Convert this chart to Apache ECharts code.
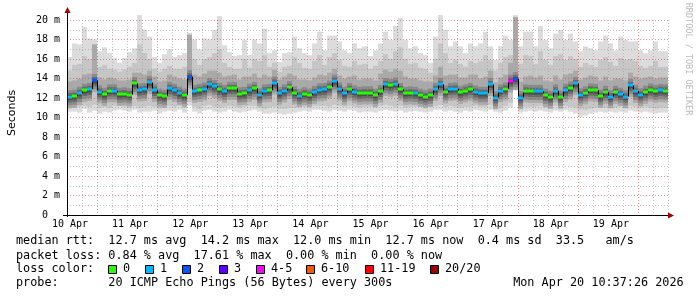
<!DOCTYPE html>
<html><head><meta charset="utf-8">
<script src="https://cdn.jsdelivr.net/npm/echarts@6/dist/echarts.min.js"></script>
<style>html,body{margin:0;padding:0;background:#fff}#c{width:697px;height:297px}</style>
</head><body><div id="c"></div><script>
// ---------- data ----------
const dayLabels = ['10 Apr','11 Apr','12 Apr','13 Apr','14 Apr','15 Apr','16 Apr','17 Apr','18 Apr','19 Apr'];
const stepHours = 2;           // one consolidated sample every 2 h, 120 samples = 10 days
const median = [
 12.15,12.2,12.5,12.8,12.9,13.8,12.65,12.4,12.75,12.75,
 12.4,12.45,12.35,13.5,12.85,12.9,13.6,12.8,12.3,12.2,
 13.0,12.8,12.5,12.3,14.2,12.7,12.8,12.95,13.4,13.2,
 12.9,12.7,13.0,13.0,12.45,12.5,12.8,13.0,12.35,12.75,
 12.8,13.55,12.5,12.75,13.1,12.55,12.25,12.45,12.3,12.6,
 12.85,12.9,13.15,13.75,12.95,12.5,12.9,12.65,12.5,12.55,
 12.55,12.3,12.7,13.4,13.3,13.45,12.9,12.5,12.55,12.5,
 12.3,12.15,12.3,12.9,13.4,12.65,12.9,12.95,12.6,12.75,
 12.9,12.65,12.5,12.5,13.4,12.05,12.75,12.95,13.75,14.0,
 12.05,12.75,12.7,12.7,12.7,12.3,12.1,12.75,12.1,12.8,
 13.05,13.5,12.35,12.55,12.85,12.8,12.2,12.6,12.15,12.6,
 12.4,12.15,13.3,12.7,12.35,12.6,12.85,12.7,12.8,12.75];
const lossClass = [
 1,0,1,0,1,2,1,0,0,1, 0,0,0,0,1,1,1,1,0,0, 1,1,1,0,2,1,0,1,1,1,
 0,1,0,0,0,0,1,0,1,1, 0,1,1,1,0,0,1,0,0,1, 1,1,0,1,1,1,0,1,0,0,
 0,0,0,1,0,1,0,0,0,1, 0,0,0,1,1,0,1,1,0,0, 0,1,1,1,1,1,1,0,4,2,
 1,0,0,1,1,0,0,1,0,1, 0,1,1,0,0,0,0,0,1,0, 1,1,1,1,1,0,0,0,1,0];
const maxRtt = [
 16.2,17.6,17.5,19.3,18.1,18.0,16.8,17.2,16.6,16.1,
 15.6,16.1,16.7,17.1,20.5,19.0,18.3,16.2,15.6,16.5,
 17.0,16.2,16.4,16.6,18.7,18.0,17.0,18.1,18.0,19.0,
 20.4,17.4,16.7,16.3,16.4,17.95,16.4,18.0,17.6,19.1,
 16.6,16.9,15.7,16.6,16.7,18.3,17.1,16.6,16.4,17.6,
 18.8,16.9,18.4,18.4,17.8,16.9,16.6,17.6,17.1,17.3,
 16.3,16.9,17.6,18.8,17.95,19.4,20.2,17.95,17.1,17.3,
 16.6,16.4,15.6,18.3,20.5,19.0,17.3,17.8,17.3,16.6,
 17.6,17.3,17.6,18.8,17.3,15.9,17.3,18.4,17.95,20.5,
 17.3,18.8,18.8,17.3,19.4,17.95,17.1,18.6,18.97,17.95,
 18.6,17.8,16.8,17.3,17.1,16.9,17.8,18.4,17.6,16.9,
 18.3,17.95,17.8,17.8,16.9,16.6,16.9,17.8,16.8,16.8];
const upperBand = [
 14.8,15.4,15.5,16.3,16.0,16.5,15.2,15.4,15.0,14.9,
 14.7,14.9,15.2,15.6,17.5,16.6,16.0,15.0,14.7,15.0,
 15.3,15.0,15.0,15.2,17.5,16.0,15.4,16.0,16.2,16.6,
 17.0,15.6,15.2,15.0,15.0,16.0,15.1,16.0,15.8,16.4,
 15.2,15.6,14.7,15.2,15.3,16.2,15.6,15.1,15.0,15.8,
 16.4,15.4,16.2,16.6,15.9,15.3,15.2,15.8,15.4,15.5,
 15.0,15.3,15.8,16.5,16.0,16.8,17.2,16.0,15.5,15.6,
 15.1,15.0,14.6,16.0,17.6,16.6,15.6,15.9,15.5,15.2,
 15.8,15.6,15.8,16.4,15.9,14.8,15.6,16.2,16.4,19.0,
 15.5,16.4,16.3,15.5,16.8,15.9,15.4,16.3,16.5,15.9,
 16.3,16.0,15.2,15.6,15.4,15.2,15.9,16.2,15.7,15.3,
 16.1,15.9,16.0,15.8,15.3,15.1,15.3,15.8,15.2,15.2];
const innerUpper = [
 13.7,13.8,14.0,14.4,14.5,17.5,14.1,13.9,14.1,14.0,
 13.8,13.8,13.9,14.6,14.6,14.4,14.8,14.2,13.7,13.8,
 14.4,14.2,14.0,13.9,18.5,14.4,14.2,14.5,14.8,14.8,
 14.6,14.2,14.3,14.4,13.9,14.2,14.2,14.5,14.1,14.4,
 14.2,14.9,13.9,14.2,14.5,14.3,13.9,13.9,13.8,14.1,
 14.4,14.3,14.6,15.0,14.3,14.0,14.2,14.3,13.9,14.0,
 14.0,13.8,14.5,14.9,14.7,15.0,14.8,14.2,14.0,14.0,
 13.8,13.7,13.7,14.3,15.2,14.3,14.4,14.4,14.1,14.1,
 14.4,14.4,14.0,14.2,14.8,13.6,14.1,14.4,15.6,20.3,
 13.7,14.2,14.3,14.1,14.3,13.8,13.7,14.3,13.9,14.4,
 14.5,14.8,13.9,14.1,14.3,14.2,13.8,14.2,13.8,14.0,
 14.0,13.8,14.6,14.2,14.0,14.1,14.2,14.0,14.1,14.1];
const minRtt = [
 10.6,10.6,10.5,10.9,10.5,10.7,10.4,10.6,10.5,10.7,
 10.8,10.7,10.6,10.8,10.5,10.6,10.6,10.7,10.4,10.6,
 10.7,10.6,10.8,10.5,11.2,10.6,10.4,10.7,10.8,10.6,
 10.5,10.6,10.8,10.6,10.5,10.6,10.7,10.8,10.6,10.4,
 10.4,10.5,10.4,10.3,10.4,10.5,10.6,10.7,10.6,10.8,
 10.8,10.7,10.6,10.8,10.7,10.6,10.8,10.7,10.5,10.6,
 10.6,10.5,10.7,10.8,10.7,10.6,10.7,10.5,10.6,10.7,
 10.6,10.5,10.6,10.8,10.8,10.6,10.7,10.6,10.5,10.7,
 10.6,10.8,10.7,10.6,10.8,10.6,10.5,10.7,11.0,12.9,
 10.5,10.6,10.7,10.6,10.7,10.6,10.5,10.7,10.6,10.8,
 10.6,10.4,10.1,10.2,10.4,10.5,10.6,10.5,10.6,10.5,
 10.6,10.5,10.7,10.6,10.5,10.6,10.5,10.4,10.5,10.5];
const lowerBand = [
 11.1,11.0,11.1,11.2,11.1,11.3,11.0,11.1,11.0,11.2,
 11.2,11.1,11.0,11.2,11.0,11.1,11.2,11.1,10.9,11.0,
 11.2,11.1,11.2,11.0,11.6,11.1,10.9,11.2,11.3,11.1,
 11.0,11.1,11.2,11.1,11.0,11.1,11.2,11.2,11.0,10.9,
 11.0,11.1,10.9,10.9,11.0,11.0,11.1,11.1,11.0,11.2,
 11.2,11.2,11.1,11.3,11.2,11.1,11.2,11.1,11.0,11.1,
 11.1,11.0,11.2,11.3,11.2,11.1,11.2,11.0,11.1,11.1,
 11.1,11.0,11.1,11.2,11.3,11.1,11.2,11.1,11.0,11.1,
 11.1,11.2,11.1,11.1,11.3,11.0,11.0,11.2,11.5,13.3,
 11.0,11.1,11.1,11.1,11.2,11.0,11.0,11.2,11.0,11.2,
 11.1,11.0,10.8,10.8,10.9,11.0,11.0,11.0,11.0,11.0,
 11.1,11.0,11.2,11.1,11.0,11.1,11.0,10.9,11.0,11.0];

const lossColors = ['#26ff00','#00b8ff','#0059ff','#5e00ff','#ff00ff','#ff5500','#ff0000','#a00000'];
const lossLabels = ['0','1','2','3','4-5','6-10','11-19','20/20'];
const legendLines = [
  'median rtt:  12.7 ms avg  14.2 ms max  12.0 ms min  12.7 ms now  0.4 ms sd  33.5   am/s',
  'packet loss: 0.84 % avg  17.61 % max  0.00 % min  0.00 % now',
  'loss color:',
  'probe:       20 ICMP Echo Pings (56 Bytes) every 300s                 Mon Apr 20 10:37:26 2026'
];

// ---------- build ----------
const rows = median.map((m, i) => [i*stepHours, (i+1)*stepHours, minRtt[i], maxRtt[i], lowerBand[i], upperBand[i], innerUpper[i], m, i ? median[i-1] : m, lossClass[i]]);

const RED = 'rgba(215,70,70,0.6)', GRAY = 'rgba(150,150,150,0.55)', NONE = 'rgba(0,0,0,0)';
const MONO = '"DejaVu Sans Mono", monospace';

function smoke(params, api) {
  const x0 = Math.round(api.coord([api.value(0), 0])[0]);
  const x1 = Math.round(api.coord([api.value(1), 0])[0]);
  const m = api.value(7);
  const bands = [
    [api.value(2), api.value(3), '#dcdcdc'],
    [api.value(4), api.value(5), '#c6c6c6'],
    [m - 1.2, api.value(6), '#a9a9a9'],
    [m - 0.9, m + 0.65, '#8a8a8a'],
    [m - 0.6, m + 0.35, '#6a6a6a'],
    [m - 0.35, m + 0.15, '#4c4c4c']
  ];
  return {type:'group', children: bands.map(([a,b,c]) => {
    const ya = api.coord([0,a])[1], yb = api.coord([0,b])[1];
    return {type:'rect', shape:{x:x0, y:yb, width:x1-x0, height:ya-yb}, style:{fill:c}};
  })};
}
function medianMark(params, api) {
  const x0 = Math.round(api.coord([api.value(0), 0])[0]);
  const x1 = Math.round(api.coord([api.value(1), 0])[0]);
  const y = api.coord([0, api.value(7)])[1];
  const yp = api.coord([0, api.value(8)])[1];
  return {type:'group', children:[
    {type:'line', shape:{x1:x0+0.5, y1:yp, x2:x0+0.5, y2:y}, style:{stroke:'#000', lineWidth:1}},
    {type:'rect', shape:{x:x0, y:Math.round(y)-1.5, width:x1-x0, height:3}, style:{fill:lossColors[api.value(9)]}}
  ]};
}

const graphics = [
  {type:'line', shape:{x1:67.5,y1:11,x2:67.5,y2:217}, style:{stroke:'#000', lineWidth:1}, z:20},
  {type:'polygon', shape:{points:[[64.5,13],[70.5,13],[67.5,7]]}, style:{fill:'#a00000'}, z:20},
  {type:'line', shape:{x1:63,y1:215.5,x2:669,y2:215.5}, style:{stroke:'#000', lineWidth:1}, z:20},
  {type:'polygon', shape:{points:[[668,212.5],[668,218.5],[674,215.5]]}, style:{fill:'#a00000'}, z:20},
  {type:'text', x:12, y:113, rotation:Math.PI/2, style:{text:'Seconds', font:'11px "DejaVu Sans"', fill:'#000', align:'center', verticalAlign:'middle'}},
  {type:'text', x:688, y:59, rotation:-Math.PI/2, style:{text:'RRDTOOL / TOBI OETIKER', font:'8.5px ' + MONO, fill:'#bcbcbc', align:'center', verticalAlign:'middle'}}
];
const lf = '11.8px ' + MONO;
const lineY = [241, 255.7, 269.3, 283.3];
legendLines.forEach((t, k) => graphics.push({type:'text', x:16, y:lineY[k], style:{text:t, font:lf, fill:'#000', align:'left', verticalAlign:'middle'}}));
const boxX = [108.5,145.5,182.5,219.5,256.5,306.5,365.5,430.5];
lossLabels.forEach((lab, k) => {
  graphics.push({type:'rect', shape:{x:boxX[k], y:265.5, width:8, height:8}, style:{fill:lossColors[k], stroke:'#000', lineWidth:1}});
  graphics.push({type:'text', x:boxX[k]+14.5, y:269.3, style:{text:lab, font:lf, fill:'#000', align:'left', verticalAlign:'middle'}});
});

const chart = echarts.init(document.getElementById('c'), null, {renderer:'canvas'});
chart.setOption({
  animation:false,
  backgroundColor:'#fff',
  grid:{left:67, right:29, top:20, bottom:82},
  xAxis:[
    {type:'value', min:0, max:240, interval:6, z:3,
     axisLine:{show:false}, axisTick:{show:false},
     axisLabel:{formatter: v => (v % 24 === 0 && v < 240) ? dayLabels[v/24] : '', fontFamily:MONO, fontSize:10, color:'#000', margin:4, padding:[0,0,0,6]},
     splitLine:{show:true, lineStyle:{color:[GRAY,GRAY,NONE,GRAY], type:[1,2], width:1}}},
    {type:'value', min:0, max:240, interval:12, z:3, position:'bottom',
     axisLine:{show:false}, axisTick:{show:false}, axisLabel:{show:false},
     splitLine:{show:true, lineStyle:{color:[NONE,RED], type:[1,2], width:1}}}
  ],
  yAxis:{type:'value', min:0, max:20, interval:1, z:3,
     axisLine:{show:false}, axisTick:{show:false},
     axisLabel:{formatter: v => (v % 2) ? '' : (v === 0 ? '0  ' : v + ' m'), fontFamily:MONO, fontSize:10, color:'#000', margin:7},
     splitLine:{show:true, lineStyle:{color:[RED,GRAY], type:[1,2], width:1}}},
  series:[
    {type:'custom', renderItem:smoke, data:rows, encode:{x:[0,1], y:[2,3]}, clip:false, z:2, silent:true},
    {type:'custom', renderItem:medianMark, data:rows, encode:{x:[0,1], y:[7]}, clip:false, z:4, silent:true}
  ],
  graphic:graphics
});
</script></body></html>
